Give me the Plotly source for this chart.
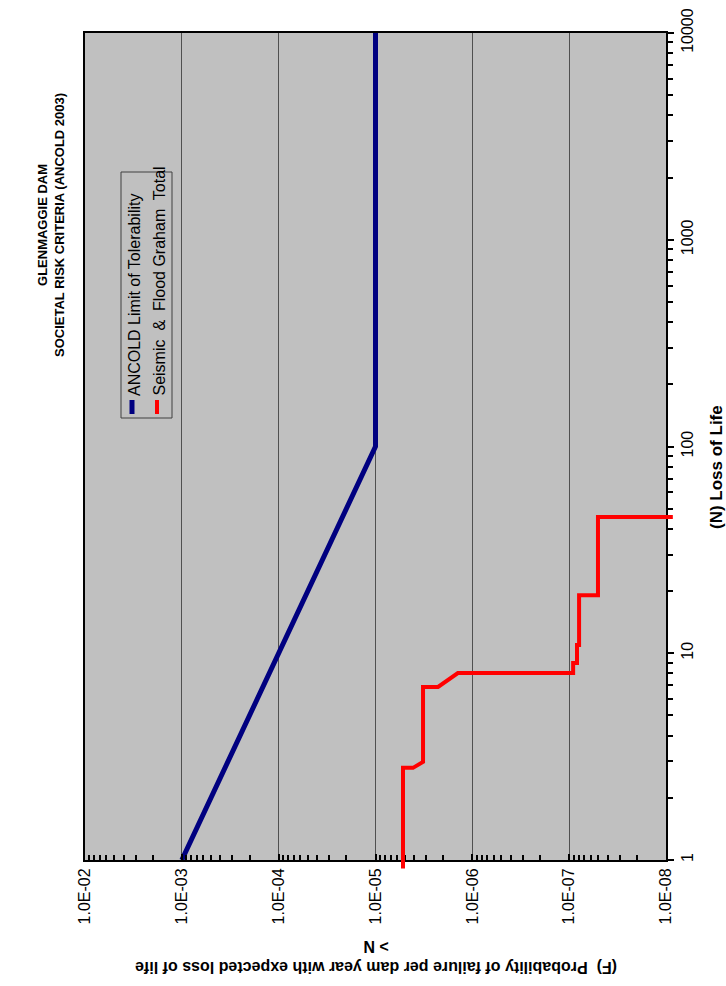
import plotly.graph_objects as go

# ---- data -------------------------------------------------------------
# ANCOLD limit of tolerability (N = loss of life, F = annual probability)
ancold_n = [1, 100, 10000]
ancold_f = [1e-3, 1e-5, 1e-5]

# Seismic & flood total F-N curve (stepped)
total_n = [0.91, 2.79, 2.79, 2.98, 2.98, 6.87, 6.87, 8.02, 8.02, 8.97, 8.97,
           10.96, 10.96, 19.1, 19.1, 45.6, 45.6]
total_f = [5.2e-6, 5.2e-6, 4.1e-6, 3.23e-6, 3.23e-6, 3.23e-6, 2.26e-6, 1.41e-6,
           9.1e-8, 9.1e-8, 8.3e-8, 8.3e-8, 7.9e-8, 7.9e-8, 5.04e-8, 5.04e-8, 8.5e-9]

f_ticks = [1e-2, 1e-3, 1e-4, 1e-5, 1e-6, 1e-7, 1e-8]
f_labels = ["1.0E-02", "1.0E-03", "1.0E-04", "1.0E-05", "1.0E-06", "1.0E-07", "1.0E-08"]
n_ticks = [1, 10, 100, 1000, 10000]
n_labels = ["1", "10", "100", "1000", "10000"]

# ---- page geometry (pixels) -------------------------------------------
W, H = 726, 986
ML, MR, MT, MB = 75, 50, 23, 116          # outer paper area
PX0, PX1, PY0, PY1 = 85, 666, 33, 860     # framed plot area (left, right, top, bottom)
F_LO, F_HI = -2.0, -8.0                   # log10 F at left / right
N_LO, N_HI = 0.0, 4.0                     # log10 N at bottom / top

pw, ph = W - ML - MR, H - MT - MB
def px(x):
    return (x - ML) / pw
def py(y):
    return (H - MB - y) / ph

dec_x = (PX1 - PX0) / abs(F_HI - F_LO)
dec_y = (PY1 - PY0) / (N_HI - N_LO)
# extended axes spanning the whole paper area so curves may run past the frame
ext_x = [F_LO + (PX0 - ML) / dec_x, F_HI - (ML + pw - PX1) / dec_x]
ext_y = [N_LO - (H - MB - PY1) / dec_y, N_HI + (PY0 - MT) / dec_y]

minor_f = [m * 10.0 ** e for e in range(-8, -2) for m in range(2, 10)]
minor_n = [m * 10.0 ** e for e in range(0, 4) for m in range(2, 10)]

FONT = "Liberation Sans, Arial, sans-serif"
GREY = "#c0c0c0"

fig = go.Figure()
fig.add_trace(go.Scatter(x=ancold_f, y=ancold_n, mode="lines", xaxis="x", yaxis="y",
                         line=dict(color="#000080", width=5), showlegend=False))
fig.add_trace(go.Scatter(x=total_f, y=total_n, mode="lines", xaxis="x2", yaxis="y2",
                         line=dict(color="#ff0000", width=4), showlegend=False))

fig.update_layout(
    template="none",
    width=W, height=H,
    margin=dict(l=ML, r=MR, t=MT, b=MB, autoexpand=False),
    paper_bgcolor="white", plot_bgcolor="rgba(0,0,0,0)",
    font=dict(family=FONT, color="black", size=14),
    showlegend=False,
    xaxis=dict(type="log", range=[F_LO, F_HI], domain=[px(PX0), px(PX1)], anchor="y",
               automargin=False,
               tickvals=f_ticks, ticktext=f_labels, tickangle=-90,
               tickfont=dict(size=16),
               ticks="inside", ticklen=6, tickwidth=1.5, tickcolor="black",
               showline=True, linecolor="black", linewidth=2, mirror=True,
               showgrid=True, gridcolor="#505050", gridwidth=1, zeroline=False,
               minor=dict(tickvals=minor_f, ticks="inside", ticklen=5, tickwidth=1.5,
                          tickcolor="black", showgrid=False)),
    yaxis=dict(type="log", range=[N_LO, N_HI], domain=[py(PY1), py(PY0)], anchor="x",
               automargin=False,
               side="right", tickvals=n_ticks, ticktext=n_labels, tickangle=-90,
               tickfont=dict(size=16),
               ticks="outside", ticklen=6, tickwidth=1.5, tickcolor="black",
               showline=True, linecolor="black", linewidth=2, mirror=True,
               showgrid=False, zeroline=False,
               minor=dict(tickvals=minor_n, ticks="outside", ticklen=5, tickwidth=1.5,
                          tickcolor="black", showgrid=False)),
    xaxis2=dict(type="log", range=ext_x, domain=[0, 1], anchor="y2", visible=False,
                automargin=False, fixedrange=True),
    yaxis2=dict(type="log", range=ext_y, domain=[0, 1], anchor="x2", visible=False,
                automargin=False, fixedrange=True),
)

shapes = [
    # grey plotting field
    dict(type="rect", xref="paper", yref="paper", x0=px(PX0), x1=px(PX1),
         y0=py(PY1), y1=py(PY0), fillcolor=GREY, line=dict(width=0), layer="below"),
    # legend frame and samples
    dict(type="rect", xref="paper", yref="paper", x0=px(121), x1=px(172),
         y0=py(418), y1=py(172), fillcolor=GREY, line=dict(color="#404040", width=1),
         layer="above"),
    dict(type="line", xref="paper", yref="paper", x0=px(132), x1=px(132),
         y0=py(414), y1=py(400), line=dict(color="#000080", width=5), layer="above"),
    dict(type="line", xref="paper", yref="paper", x0=px(157), x1=px(157),
         y0=py(414), y1=py(400), line=dict(color="#ff0000", width=4), layer="above"),
]
fig.update_layout(shapes=shapes)

ann = [
    dict(text="<b>GLENMAGGIE DAM</b><br><b>SOCIETAL RISK CRITERIA (ANCOLD 2003)</b>",
         x=px(51), y=py(225), textangle=-90, font=dict(size=13)),
    dict(text="<b>(F)  Probability of failure per dam year with expected loss of life</b>"
              "<br><b>> N</b>",
         x=px(376), y=py(957), textangle=180, font=dict(size=16)),
    dict(text="<b>(N) Loss of Life</b>", x=px(716), y=py(467), textangle=-90,
         font=dict(size=17)),
    dict(text="ANCOLD Limit of Tolerability", x=px(134), y=py(398), textangle=-90,
         yanchor="bottom", font=dict(size=16)),
    dict(text="Seismic  &  Flood Graham  Total", x=px(159), y=py(398), textangle=-90,
         yanchor="bottom", font=dict(size=16)),
]
for a in ann:
    a.setdefault("xref", "paper")
    a.setdefault("yref", "paper")
    a.setdefault("showarrow", False)
    a.setdefault("align", "center")
    a.setdefault("xanchor", "center")
    a.setdefault("yanchor", "middle")
fig.update_layout(annotations=ann)

fig.write_html("out.html")
